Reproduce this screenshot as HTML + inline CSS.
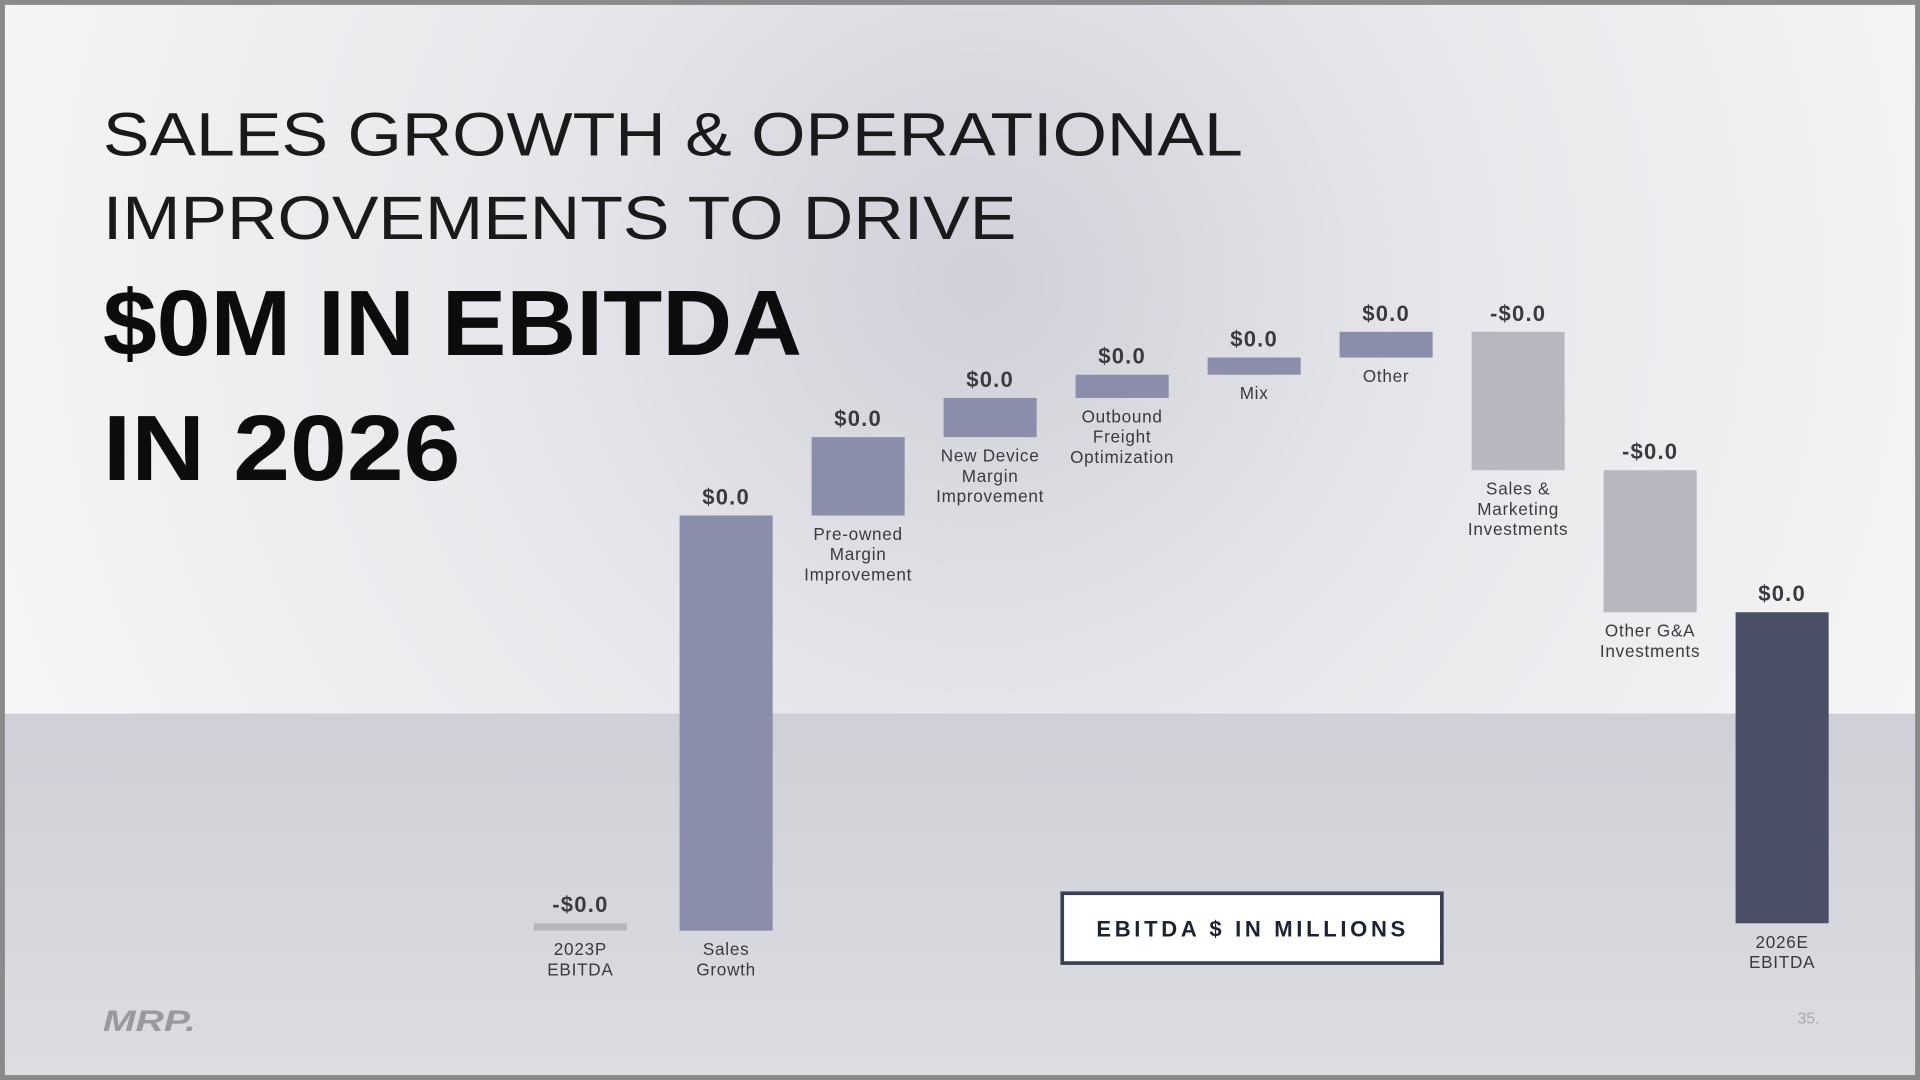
<!DOCTYPE html>
<html><head><meta charset="utf-8"><style>
html,body{margin:0;padding:0;width:1920px;height:1080px;overflow:hidden;background:#888}
svg{display:block}
text{font-family:"Liberation Sans",sans-serif}
</style></head><body>
<svg id="chart" width="1920" height="1080" viewBox="0 0 1568 882">
<defs>
<radialGradient id="topbg" cx="800" cy="230" r="900" gradientUnits="userSpaceOnUse">
<stop offset="0" stop-color="#cfd0d8"/><stop offset="0.45" stop-color="#e8e8ec"/><stop offset="1" stop-color="#f7f7f8"/>
</radialGradient>
<linearGradient id="botbg" x1="0" y1="0" x2="0" y2="1">
<stop offset="0" stop-color="#cfd0d7"/><stop offset="1" stop-color="#dcdde1"/>
</linearGradient>
<linearGradient id="axisfade" x1="0" y1="0" x2="1" y2="0">
<stop offset="0" stop-color="#999" stop-opacity="0"/><stop offset="0.2" stop-color="#999" stop-opacity="0.7"/><stop offset="1" stop-color="#777"/>
</linearGradient>
</defs>
<rect x="0" y="0" width="1568" height="882" fill="#8a8a8a"/>
<rect x="4" y="4" width="1560" height="579" fill="url(#topbg)"/>
<rect x="4" y="583" width="1560" height="295" fill="url(#botbg)"/>
<g>
<text x="84" y="127" font-size="50" fill="#1a1a1a" textLength="931" lengthAdjust="spacingAndGlyphs">SALES GROWTH &amp; OPERATIONAL</text>
<text x="84" y="195" font-size="50" fill="#1a1a1a" textLength="746" lengthAdjust="spacingAndGlyphs">IMPROVEMENTS TO DRIVE</text>
<text x="84" y="290" font-size="76" font-weight="bold" fill="#0c0c0c" textLength="571" lengthAdjust="spacingAndGlyphs">$0M IN EBITDA</text>
<text x="84" y="392" font-size="76" font-weight="bold" fill="#0c0c0c" textLength="292" lengthAdjust="spacingAndGlyphs">IN 2026</text>
</g>
<line x1="90" y1="754" x2="1568" y2="754" stroke="url(#axisfade)" stroke-width="2"/>
<g id="bars"></g>
<g>
<rect x="867.5" y="729.5" width="310" height="57" fill="#fff" stroke="#3a3f55" stroke-width="3"/>
<text x="1023" y="765" font-size="18" font-weight="bold" fill="#1e2235" text-anchor="middle" letter-spacing="3">EBITDA $ IN MILLIONS</text>
</g>
<text x="84" y="842" font-size="24" font-weight="bold" font-style="italic" fill="#9a9a9c" textLength="76" lengthAdjust="spacingAndGlyphs">MRP.</text>
<text x="1486" y="836" font-size="13" fill="#a8a8ac" text-anchor="end">35.</text>
</svg>
<script>
const categories = [["2023P","EBITDA"],["Sales","Growth"],["Pre-owned","Margin","Improvement"],["New Device","Margin","Improvement"],["Outbound","Freight","Optimization"],["Mix"],["Other"],["Sales &","Marketing","Investments"],["Other G&A","Investments"],["2026E","EBITDA"]];
const kinds = ["start","delta","delta","delta","delta","delta","delta","delta","delta","total"];
const values = [-0.6, 33.9, 6.4, 3.2, 1.9, 1.4, 2.1, -11.3, -11.6, null];
const valueLabels = ["-$0.0","$0.0","$0.0","$0.0","$0.0","$0.0","$0.0","-$0.0","-$0.0","$0.0"];

const NS = "http://www.w3.org/2000/svg";
const baseY = 754, pxPerUnit = 10, barW = 76;
function yScale(v){ return baseY - v * pxPerUnit; }
function xScale(i){ return i === 0 ? 474 : 593 + (i - 1) * 107.8; }
const g = document.getElementById("bars");
let running = 0;
categories.forEach((cat, i) => {
  let a, b, color;
  if (kinds[i] === "start") { a = 0; b = values[i]; running = values[i]; color = "#b5b6bc"; }
  else if (kinds[i] === "total") { a = 0; b = running; color = "#4a4f66"; }
  else { a = running; b = running + values[i]; running = b; color = values[i] >= 0 ? "#8a8eab" : "#b7b8bf"; }
  const top = Math.min(yScale(a), yScale(b)), bot = Math.max(yScale(a), yScale(b));
  const cx = xScale(i);
  const r = document.createElementNS(NS, "rect");
  r.setAttribute("x", cx - barW/2); r.setAttribute("y", top);
  r.setAttribute("width", barW); r.setAttribute("height", Math.max(bot - top, 1));
  r.setAttribute("fill", color);
  
  
  g.appendChild(r);
  const vt = document.createElementNS(NS, "text");
  const labelTop = (kinds[i] === "start") ? Math.min(top, baseY) : top;
  vt.setAttribute("x", cx); vt.setAttribute("y", labelTop - 9);
  vt.setAttribute("text-anchor", "middle"); vt.setAttribute("font-size", "18");
  vt.setAttribute("font-weight", "bold"); vt.setAttribute("fill", "#3a3a40");
  vt.setAttribute("letter-spacing", "1");
  vt.textContent = valueLabels[i];
  
  
  g.appendChild(vt);
  const ct = document.createElementNS(NS, "text");
  ct.setAttribute("text-anchor", "middle"); ct.setAttribute("font-size", "14");
  ct.setAttribute("fill", "#3a3a40"); ct.setAttribute("letter-spacing", "0.6");
  const startY = bot + 20;
  cat.forEach((line, k) => {
    const ts = document.createElementNS(NS, "tspan");
    ts.setAttribute("x", cx); ts.setAttribute("y", startY + k * 16.5);
    ts.textContent = line;
    ct.appendChild(ts);
  });
  
  
  g.appendChild(ct);
});
</script>
</body></html>
